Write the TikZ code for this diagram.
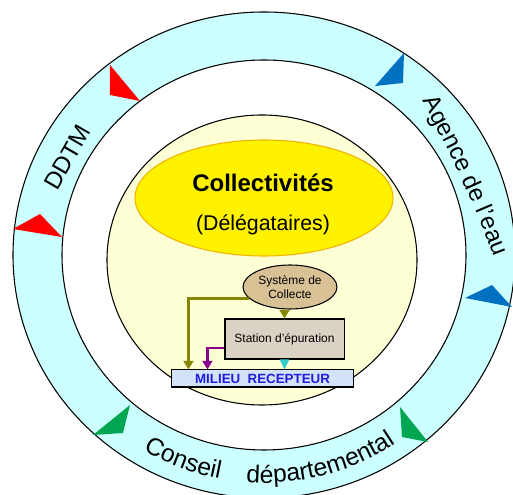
\documentclass[tikz,border=0pt]{standalone}
\usepackage{fontspec}
\setmainfont{Liberation Sans}
\usetikzlibrary{arrows.meta,shapes.geometric,decorations.text}

\definecolor{bandblue}{HTML}{CCFFFF}
\definecolor{paleyellow}{HTML}{FFFFD5}
\definecolor{collyellow}{HTML}{FFF200}
\definecolor{collborder}{HTML}{F0B400}
\definecolor{systan}{HTML}{D9C196}
\definecolor{stationgrey}{HTML}{DAD2C4}
\definecolor{milieublue}{HTML}{D3E2F7}
\definecolor{milieutext}{HTML}{1E1EE0}
\definecolor{olivearrow}{HTML}{868600}
\definecolor{purplearrow}{HTML}{8B008B}
\definecolor{cyanarrow}{HTML}{33CCCC}
\definecolor{flagred}{HTML}{FF0000}
\definecolor{flagblue}{HTML}{0070C0}
\definecolor{flaggreen}{HTML}{00A651}

\begin{document}
\begin{tikzpicture}[
            x = 0.75pt, y = 0.75pt,
            line/.style={line width = .8pt},
            flow/.style={line width = 2.2pt, draw=#1, -{Triangle[width=7.5pt,length=6.5pt]}},
            bandtext/.style={decorate, decoration={text along path, text align=center,
                text={|\fontsize{18.5}{18.5}\selectfont|#1}}},
            smallbox/.style={line, draw=black, font=\fontsize{9}{10.5}\selectfont, align=center},
            ]
        \useasboundingbox (-264,-240) rectangle (249,255);

        \path[line, draw=black, fill=bandblue, even odd rule]
            (0,0) ellipse[x radius=251, y radius=243]
            (0,0) ellipse[x radius=202, y radius=195];

        \fill[flagred] (-154,190) -- (-154,160) -- (-124,154) -- cycle;
        \fill[flagred] (-251,26) -- (-224,41) -- (-202,18) -- cycle;
        \fill[flagblue] (140,202) -- (139,172) -- (111,169) -- cycle;
        \fill[flagblue] (201,-43) -- (228,-30) -- (248,-52) -- cycle;
        \fill[flaggreen] (-171,-180) -- (-134,-150) -- (-141,-178) -- cycle;
        \fill[flaggreen] (136,-152) -- (138,-182) -- (164,-187) -- cycle;

        \node[rotate=60, font=\fontsize{18}{18}\selectfont] (ddtm) at (-196.5,97.5) {DDTM};
        \path[decorate, decoration={text along path, text align=left,
                text={|\fontsize{18}{18}\selectfont|Agence de l'eau}}]
            (158,154) .. controls (189,98) and (216,39) .. (238,-22);
        \path[bandtext=Conseil] (234:234 and 228) arc[start angle=234, end angle=264, x radius=234, y radius=228];
        \path[bandtext=départemental] (260:234 and 228) arc[start angle=260, end angle=310, x radius=234, y radius=228];

        \draw[line, fill=paleyellow] (-2,-5) ellipse[x radius=155, y radius=145];

        \node[ellipse, line, draw=collborder, fill=collyellow, minimum width=193.5pt, minimum height=87pt] (coll) at (0,57) {};
        \node[font=\fontsize{18}{18}\selectfont\bfseries] (colltitle) at (-1,72) {Collectivités};
        \node[font=\fontsize{16}{16}\selectfont] (colldeleg) at (-1,30) {(Délégataires)};

        \node[smallbox, ellipse, fill=systan, minimum width=70.5pt, minimum height=33pt, inner sep=0pt] (sys) at (26,-32) {Système de\\Collecte};
        \node[smallbox, fill=stationgrey, minimum width=89.3pt, minimum height=30pt] (station) at (20.5,-84) {Station d'épuration};
        \node[line, draw=black, fill=milieublue, minimum width=135.8pt, minimum height=12.8pt, inner sep=0pt,
            text=milieutext, font=\fontsize{10}{10}\selectfont\bfseries] (milieu) at (-1.5,-123.5) {MILIEU\ \ RECEPTEUR};

        \draw[flow=olivearrow] (sys.195) -| ([xshift=12.75pt]milieu.north west);
        \draw[flow=olivearrow] (station.north |- sys.south) -- (station.north);
        \draw[flow=purplearrow] ([yshift=-6.75pt]station.west) -| ([xshift=27pt]milieu.north west);
        \draw[cyanarrow, line width=.5pt, -{Triangle[width=7pt,length=7.5pt]}] (station.south) -- (station.south |- milieu.north);
    \end{tikzpicture}
\end{document}
